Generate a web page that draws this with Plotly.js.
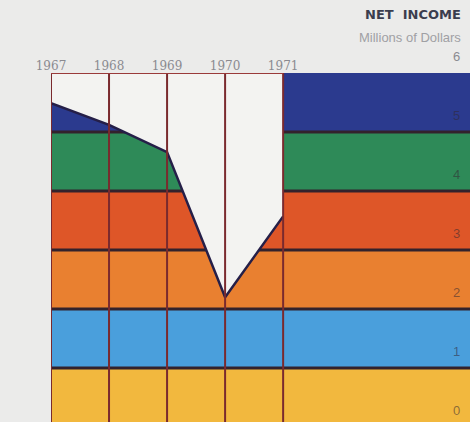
<!DOCTYPE html>
<html>
<head>
<meta charset="utf-8">
<script src="https://cdn.plot.ly/plotly-3.0.1.min.js"></script>
<style>html,body{margin:0;padding:0;background:#ebebea;overflow:hidden;}</style>
</head>
<body>
<div id="chart" style="width:470px;height:427px;"></div>
<script>
// Data
var years = [1967, 1968, 1969, 1970, 1971];
var netIncome = [5.49, 5.12, 4.66, 2.2, 3.57];
var bandLevels = [0, 1, 2, 3, 4, 5, 6];
var bandColors = ['#f2b83e', '#4a9fdc', '#e98030', '#de5628', '#2e8a58', '#2b3a8e'];
var yTickLabels = ['0', '1', '2', '3', '4', '5', '6'];
var xTickLabels = ['1967', '1968', '1969', '1970', '1971'];

var xMin = 1967, xMax = 1974.22, yMin = 0, yMax = 6;

var shapes = [];
// colour bands
for (var i = 0; i < bandColors.length; i++) {
  shapes.push({type: 'rect', xref: 'x', yref: 'y', layer: 'below',
    x0: xMin, x1: xMax, y0: bandLevels[i], y1: bandLevels[i + 1],
    fillcolor: bandColors[i], line: {width: 0}});
}
// band separators
for (var j = 1; j < bandLevels.length - 1; j++) {
  shapes.push({type: 'line', xref: 'x', yref: 'y', layer: 'below',
    x0: xMin, x1: xMax, y0: bandLevels[j], y1: bandLevels[j],
    line: {color: '#33222c', width: 3}});
}
// year verticals
years.forEach(function (yr) {
  shapes.push({type: 'line', xref: 'x', yref: 'y', layer: 'above',
    x0: yr, x1: yr, y0: yMin, y1: yMax,
    line: {color: '#7a2a2e', width: 2}});
});
// top frame across the years
shapes.push({type: 'line', xref: 'x', yref: 'y', layer: 'above',
  x0: years[0], x1: years[years.length - 1], y0: yMax, y1: yMax,
  line: {color: '#9a3a3a', width: 2}});

var topLine = {x: years, y: years.map(function () { return yMax; }),
  mode: 'lines', line: {width: 0}, hoverinfo: 'skip', showlegend: false};
var fillTrace = {x: years, y: netIncome, mode: 'lines', fill: 'tonexty',
  fillcolor: '#f3f3f1', line: {color: '#251f48', width: 2.5},
  hoverinfo: 'skip', showlegend: false};

var annotations = [];
yTickLabels.forEach(function (t, k) {
  annotations.push({xref: 'paper', yref: 'y', x: 1, y: bandLevels[k],
    xanchor: 'right', yanchor: 'bottom', xshift: -8, yshift: 7,
    text: t, showarrow: false,
    font: {family: 'Liberation Sans, Arial, sans-serif', size: 13,
      color: k === 6 ? '#8a8a90' : 'rgba(50,40,50,0.55)'}});
});
annotations.push({xref: 'paper', yref: 'paper', x: 1, y: 1, xanchor: 'right', yanchor: 'middle',
  xshift: -7, yshift: 59, text: '<b>NET  INCOME</b>', showarrow: false,
  font: {family: 'DejaVu Sans, sans-serif', size: 13, color: '#3b3d4e'}});
annotations.push({xref: 'paper', yref: 'paper', x: 1, y: 1, xanchor: 'right', yanchor: 'middle',
  xshift: -7, yshift: 36, text: 'Millions of Dollars', showarrow: false,
  font: {family: 'Liberation Sans, Arial, sans-serif', size: 13, color: '#a0a0a4'}});

var layout = {
  width: 470, height: 427,
  margin: {l: 51, r: 0, t: 73, b: 0, pad: 0},
  paper_bgcolor: '#ebebea', plot_bgcolor: 'rgba(0,0,0,0)',
  showlegend: false,
  xaxis: {range: [xMin, xMax], side: 'top', tickvals: years, ticktext: xTickLabels,
    showgrid: false, zeroline: false, showline: false, ticks: '',
    tickfont: {family: 'DejaVu Serif, serif', size: 12, color: '#8a8a90'}, fixedrange: true},
  yaxis: {range: [yMin, yMax], showgrid: false, zeroline: false, showline: false,
    showticklabels: false, ticks: '', fixedrange: true},
  shapes: shapes,
  annotations: annotations
};

Plotly.newPlot('chart', [topLine, fillTrace], layout, {displayModeBar: false, staticPlot: true});
</script>
</body>
</html>
